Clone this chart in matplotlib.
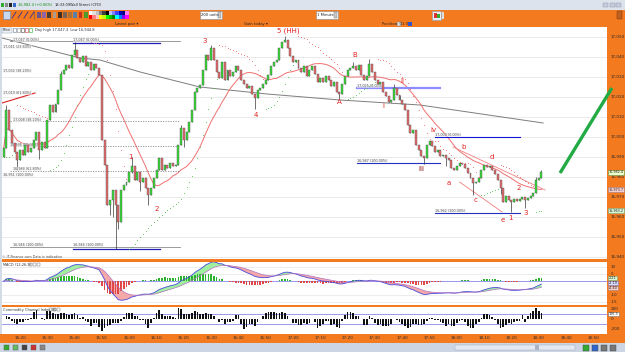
import matplotlib
matplotlib.use('Agg')
import matplotlib.pyplot as plt
from matplotlib.patches import Rectangle
import numpy as np
import pandas as pd

W, H = 625, 352
ORANGE = '#f47a20'

# ---- data: one bar per minute, time in minutes after 15:20 ----
first_minute = -6
first_open = 16990.0
closes = [
    16994.5, 17013.5, 17003.5, 16997, 16992.5, 16988.5,                                   # -6..-1
    16993.5, 16991, 16996, 16992.5, 16994.5, 16998.5, 17002.5, 16993.5, 16997.5, 16994.5,  # 0..9
    17008.5, 17016, 17012.5, 17016.5, 17023.5, 17031.5, 17033.5, 17036, 17034.5, 17041,
    17043.5, 17039.5, 17037.5, 17040.5, 17035.5, 17037.5, 17033.5, 17036.5, 17034.5, 17031,
    16998.5, 16986, 16966, 16968.5, 16973.5, 16966, 16957.5, 16973.5, 16976, 16977.5,      # 30..39
    16982.5, 16985.5, 16978.5, 16982.5, 16977.5, 16979.5, 16974.5, 16971, 16974.5, 16979.5,
    16983.5, 16989.5, 16983.5, 16986, 16984.5, 16987, 16985.5, 16986, 16996, 17004.5,
    16998.5, 17002.5, 17007.5, 17013.5, 17022.5, 17024.5, 17026, 17033.5, 17041, 17038.5,  # 60..69
    17044.5, 17038.5, 17032.5, 17029.5, 17037.5, 17028.5, 17033.5, 17030.5, 17032.5, 17035.5,
    17033.5, 17028.5, 17026.5, 17024.5, 17025.5, 17021.5, 17019.5, 17023.5, 17024.5, 17026.5,
    17028.5, 17031, 17035.5, 17037.5, 17038.5, 17044.5, 17047.5, 17048.5, 17044.5, 17040.5,  # 90..99
    17037.5, 17038.5, 17034.5, 17032.5, 17035.5, 17030.5, 17033.5, 17035.5, 17031.5, 17027.5,
    17029.5, 17027.5, 17030.5, 17028.5, 17025.5, 17027.5, 17022.5, 17021.5, 17026.5, 17030.5,
    17033.5, 17034.5, 17035.5, 17033.5, 17036, 17031, 17028.5, 17030.5, 17036.5, 17032.5,  # 120..129
    17028.5, 17026.5, 17027.5, 17022.5, 17020.5, 17017.5, 17018.5, 17024.5, 17021, 17018.5,
    17016.5, 17013.5, 17006, 17002, 17003.5, 16996, 16993.5, 16990.5, 16989.5, 16996,
    16998, 16995.5, 16992.5, 16993.5, 16990.5, 16991, 16989.5, 16988.5, 16984.5, 16983.5,  # 150..159
    16985.5, 16987, 16986.5, 16984.5, 16982, 16979.5, 16977, 16977.5, 16979.5, 16983.5,
    16986, 16985, 16985.5, 16983.5, 16981.5, 16978.5, 16974.5, 16967.5, 16970.5, 16968.5,
    16967.5, 16969, 16968, 16969, 16970, 16968.5, 16969.5, 16970.5, 16972, 16978.5,        # 180..189
    16979.5, 16982.4,
]
low_wicks = {-1: 16983.5, 7: 16989, 33: 16961, 34: 16960, 35: 16944, 36: 16954, 41: 16982,
             44: 16973, 47: 16966, 60: 16995, 86: 17014, 117: 17019, 148: 16986.5,
             156: 16985.5, 166: 16971, 176: 16971.5, 180: 16962.5, 185: 16964.5}
high_wicks = {-5: 17016, 15: 17033, 20: 17047.3, 41: 16990, 59: 17006, 70: 17046,
              97: 17050.5, 122: 17037.5, 128: 17039, 137: 17026.5, 189: 16980, 191: 16983.5}

# 200-period average (grey line)
ma200_t = [-6.6, 22, 29.3, 44, 58.6, 65.9, 90.5, 117.2, 146.5, 191.6]
ma200_p = [17049.5, 17039.5, 17038.5, 17032.5, 17027.5, 17025, 17021.5, 17018.5, 17016, 17007]

# drawn objects
fib_gray_t = [-3.7, 58.6]
fib_gray_solid = [17048, 16945]
fib_gray_dotted = [17008, 16995.5, 16983]
fib_blue_t = [19.4, 51.3]
fib_blue = [17047, 16944]
lev_t = [[123.4, 153.8], [152, 183.2], [123.4, 153.8], [152, 183.2]]
lev_p = [17024.5, 17000, 16987, 16962]
lev_col = ['#8c8cff', '#1515d8', '#2030c0', '#2030c0']
lev_lw = [1.6, 0.8, 0.8, 0.8]
trend_red_t = [-6.6, 5.5]
trend_red_p = [17017, 17022]
wedge_up_t = [158.6, 192.3]
wedge_up_p = [16995, 16973.5]
wedge_lo_t = [161, 176.6]
wedge_lo_p = [16977.5, 16962.5]
arrow_t = [197.8, 216.8]
arrow_p = [16982, 17024.5]

fib_text = ['17,047 (0.00%)', '17,047 (0.00%)', '17,041 (23.60%)', '17,032 (38.20%)',
            '17,019 (61.80%)', '17,008 (38.20%)', '16,996 (50.00%)', '16,984 (61.80%)',
            '16,951 (100.00%)', '16,946 (100.00%)', '16,946 (100.00%)', '17,025 (0.00%)',
            '17,000 (0.00%)', '16,987 (100.00%)', '16,962 (100.00%)']
fib_text_t = [-2.6, 19.4, -6.2, -6.2, -6.2, -2.6, -3.7, -2.6, -6.2, -2.6, 19.4, 123.4,
              152, 123.4, 152]
fib_text_p = [17048.5, 17048.5, 17045, 17033, 17022, 17008.5, 16996, 16984, 16981, 16946,
              16946, 17025.5, 17001, 16988, 16963]

wave_text = ['1', '2', '3', '4', '5 (HH)', 'A', 'B', 'i', 'ii', 'iii', 'iv',
             'a', 'b', 'c', 'd', 'e', '1', '2', '3']
wave_t = [40.3, 50.2, 67.8, 86.4, 98.2, 116.8, 122.7, 133, 140, 146.9, 151.3,
          157.1, 162.6, 166.7, 172.9, 176.9, 179.5, 182.8, 185.3]
wave_p = [16990, 16964, 17048, 17011, 17053, 17017.5, 17041, 17015.5, 17028, 16984,
          17003.5, 16977, 16995, 16968.5, 16990, 16958.5, 16959.5, 16974.5, 16962]

price_ticks = [17050, 17040, 17030, 17020, 17010, 17000, 16990, 16980, 16970, 16960, 16950, 16940]
macd_ticks = [10, 5, -10, -15]
cci_ticks = [200, 0, -200]
time_ticks = [0, 10, 20, 30, 40, 50, 60, 70, 80, 90, 100, 110, 120, 130, 140, 150,
              160, 170, 180, 190, 200, 210]
time_labels = ['15:20', '15:30', '15:40', '15:50', '16:00', '16:10', '16:20', '16:30',
               '16:40', '16:50', '17:00', '17:10', '17:20', '17:30', '17:40', '17:50',
               '18:00', '18:10', '18:20', '18:30', '18:40', '18:50']

# ---- derived series ----
close = np.array(closes, dtype=float)
n = len(close)
t = np.arange(first_minute, first_minute + n)
opn = np.concatenate([[first_open], close[:-1]])
high = np.maximum(opn, close)
low = np.minimum(opn, close)
for k, v in high_wicks.items():
    high[k - first_minute] = v
for k, v in low_wicks.items():
    low[k - first_minute] = v

cs = pd.Series(close)
ma20 = cs.rolling(20, min_periods=1).mean()
macd = cs.ewm(span=12, adjust=False).mean() - cs.ewm(span=26, adjust=False).mean()
signal = macd.ewm(span=9, adjust=False).mean()
hist = macd - signal

tp = pd.Series((high + low + close) / 3)
tp_ma = tp.rolling(8, min_periods=1).mean()
tp_md = tp.rolling(8, min_periods=1).apply(lambda x: np.abs(x - x.mean()).mean(), raw=True)
cci = ((tp - tp_ma) / (0.015 * tp_md.replace(0, np.nan))).fillna(0).clip(-230, 230)


def psar(hi, lo, step=0.02, max_step=0.2):
    sar = np.zeros(len(hi))
    bull = np.zeros(len(hi), dtype=bool)
    up, af, ep = True, step, hi[0]
    sar[0], bull[0] = lo[0], True
    for i in range(1, len(hi)):
        s = sar[i - 1] + af * (ep - sar[i - 1])
        if up:
            s = min(s, lo[i - 1], lo[max(i - 2, 0)])
            if lo[i] < s:
                up, s, ep, af = False, ep, lo[i], step
            elif hi[i] > ep:
                ep, af = hi[i], min(af + step, max_step)
        else:
            s = max(s, hi[i - 1], hi[max(i - 2, 0)])
            if hi[i] > s:
                up, s, ep, af = True, ep, hi[i], step
            elif lo[i] < ep:
                ep, af = lo[i], min(af + step, max_step)
        sar[i], bull[i] = s, up
    return sar, bull


sar, sar_bull = psar(high, low)

# ---- figure ----
fig = plt.figure(figsize=(W / 100, H / 100), dpi=100)
fig.patch.set_facecolor('#d3dbe7')


def px_axes(x0, y0, x1, y1, z):
    a = fig.add_axes([x0 / W, 1 - y1 / H, (x1 - x0) / W, (y1 - y0) / H])
    a.set_zorder(z)
    return a


bg = px_axes(0, 0, W, H, 0)
bg.set_xlim(0, W)
bg.set_ylim(H, 0)
bg.axis('off')

# window chrome
bg.add_patch(Rectangle((0, 0), W, 9.5, fc='#dde3ec', ec='none'))
bg.add_patch(Rectangle((0, 9.5), W, 17.5, fc=ORANGE, ec='none'))
bg.add_patch(Rectangle((607, 27), 18, 315, fc=ORANGE, ec='none'))
bg.add_patch(Rectangle((2, 259.3), 605, 2.5, fc=ORANGE, ec='none'))
bg.add_patch(Rectangle((2, 305), 605, 2, fc=ORANGE, ec='none'))
bg.add_patch(Rectangle((0, 334), W, 8.5, fc=ORANGE, ec='none'))
bg.add_patch(Rectangle((0, 342.5), W, 9.5, fc='#cbd5e4', ec='none'))

for i, c in enumerate(['#33aa33', '#888888', '#222222', '#3366cc']):
    bg.add_patch(Rectangle((1 + i * 4, 2.5), 3, 4.5, fc=c, ec='none'))
bg.text(18, 4.8, '16,982.4 (+0.06%)', fontsize=2.6, color='#118811', va='center')
bg.text(55, 4.8, '18:33:09', fontsize=2.6, color='#222222', va='center')
bg.text(70, 4.8, 'Wall Street (CFD)', fontsize=2.6, color='#222222', va='center')
for x in [603, 610, 616]:
    bg.add_patch(Rectangle((x, 2.5), 5, 4.5, fc='#c3ccda', ec='#8894a8', lw=0.3))

bg.add_patch(Rectangle((3, 11), 7, 8, fc='#c8d8f0', ec='#6080b0', lw=0.4))
for i in range(4):
    x = 12 + i * 6
    bg.plot([x, x + 4], [18, 12], color='#303090', lw=0.6)
bg.plot([33.5, 33.5], [11, 19], color='#555555', lw=0.4)
for i, c in enumerate(['#5050a0', '#8060c0', '#303030', '#a0a0a0', '#202020', '#606060',
                       '#a07040', '#4080c0', '#bb2222', '#30a030']):
    bg.add_patch(Rectangle((37 + i * 5.2, 12), 3.8, 6, fc=c, ec='none', alpha=0.85))
row1 = ['#ffffff', '#e0e0e0', '#c0c0c0', '#808080', '#404040', '#000000',
        '#c0c0ff', '#8080ff', '#4040ff', '#0000c0', '#000080', '#ff80ff']
row2 = ['#ff0000', '#ff8080', '#ffc0c0', '#ffff00', '#c0ff00', '#00ff00',
        '#00c000', '#008000', '#00ffff', '#0080ff', '#8000ff', '#ff00ff']
for i in range(12):
    bg.add_patch(Rectangle((89 + i * 3.3, 10.5), 3.3, 4.3, fc=row1[i], ec='none'))
    bg.add_patch(Rectangle((89 + i * 3.3, 14.8), 3.3, 4.3, fc=row2[i], ec='none'))
for x0, label in [(200, '200 units'), (316, '1 Minute')]:
    bg.add_patch(Rectangle((x0, 11), 22, 8, fc='white', ec='#888888', lw=0.4))
    bg.add_patch(Rectangle((x0 + 18, 12), 3.3, 6, fc='#c8c8c8', ec='#777777', lw=0.3))
    bg.text(x0 + 1.2, 15, label, fontsize=2.7, color='#222222', va='center')
bg.add_patch(Rectangle((432, 10.5), 9, 9, fc='#e8eef8', ec='#8899aa', lw=0.4))
bg.add_patch(Rectangle((434, 12.5), 2.5, 5, fc='#dd3333', ec='none'))
bg.add_patch(Rectangle((437, 13.5), 2.5, 4, fc='#33aa33', ec='none'))
bg.add_patch(Rectangle((442, 11.5), 2, 7, fc='#dddddd', ec='none'))
bg.add_patch(Rectangle((617, 11), 5, 8, fc='#c06020', ec='#703000', lw=0.3))
bg.text(115, 24.2, 'Latest pair \u25be', fontsize=2.7, color='#222222', va='center')
bg.text(244, 24.2, 'Gain today \u25be', fontsize=2.7, color='#222222', va='center')
bg.text(382, 24.2, 'Position: 0', fontsize=2.7, color='#222222', va='center')
bg.add_patch(Rectangle((397, 22), 3.5, 4, fc='#e0e0e0', ec='#777777', lw=0.3))
bg.text(402, 24.2, '1 0', fontsize=2.7, color='#222222', va='center')
bg.add_patch(Rectangle((408, 22), 3.5, 4, fc='#3355cc', ec='none'))

for i, c in enumerate(['#33aa33', '#66bb66', '#444444', '#cc3333', '#888888']):
    bg.add_patch(Rectangle((4 + i * 9, 345), 5, 5, fc=c, ec='#555555', lw=0.3))
bg.add_patch(Rectangle((455, 345), 120, 4.5, fc='#e4e9f1', ec='#99a3b5', lw=0.3))
bg.add_patch(Rectangle((535, 345), 4, 4.5, fc='#aab4c4', ec='none'))
for i, c in enumerate(['#33aa33', '#3366cc', '#777777', '#777777']):
    bg.add_patch(Rectangle((583 + i * 9, 344.5), 6, 6, fc=c, ec='#444444', lw=0.3))

xlim = (-6.6, 215.0)

# ---- price panel ----
ax = px_axes(2, 27, 607, 259, 2)
ax.set_xlim(*xlim)
ax.set_ylim(16939, 17055)
for p in price_ticks:
    ax.axhline(p, color='#e2e2e2', lw=0.5, zorder=0)

ax.plot(ma200_t, ma200_p, color='#7d7d7d', lw=0.7, zorder=1)
ax.plot(t, ma20, color='#f07070', lw=0.7, zorder=1)

ax.plot(fib_gray_t, [fib_gray_solid[0]] * 2, color='#8a8a8a', lw=0.6)
ax.plot(fib_gray_t, [fib_gray_solid[1]] * 2, color='#8a8a8a', lw=0.6)
for p in fib_gray_dotted:
    ax.plot(fib_gray_t, [p, p], color='#8a8a8a', lw=0.6, ls=(0, (1.5, 1.5)))
for p in fib_blue:
    ax.plot(fib_blue_t, [p, p], color='#2020b8', lw=0.9)
for tt, p, c, lw in zip(lev_t, lev_p, lev_col, lev_lw):
    ax.plot(tt, [p, p], color=c, lw=lw, zorder=1)
ax.plot(trend_red_t, trend_red_p, color='#dd2222', lw=0.8)
ax.plot(wedge_up_t, wedge_up_p, color='#f08080', lw=0.6)
ax.plot(wedge_lo_t, wedge_lo_p, color='#f08080', lw=0.6)

for txt, tt, p in zip(fib_text, fib_text_t, fib_text_p):
    ax.text(tt, p, txt, fontsize=2.4, color='#555555', va='center', ha='left',
            bbox=dict(boxstyle='square,pad=0.1', fc='#f0f0f0', ec='none', alpha=0.6))

up = close >= opn
ax.vlines(t, low, high, color='#222222', lw=0.45, zorder=2)
ax.bar(t, np.maximum(np.abs(close - opn), 0.35), bottom=np.minimum(opn, close), width=0.72,
       color=np.where(up, '#33dd33', '#e86a6a'), edgecolor='#555555', linewidth=0.3, zorder=3)

ax.scatter(t[~sar_bull], sar[~sar_bull], s=0.35, color='#f06060', lw=0, zorder=4)
ax.scatter(t[sar_bull], sar[sar_bull], s=0.35, color='#44bb44', lw=0, zorder=4)

for txt, tt, p in zip(wave_text, wave_t, wave_p):
    ax.text(tt, p, txt, fontsize=5, color='#8b0000' if txt == 'iii' else '#e02020',
            ha='center', va='center', zorder=5)

ax.plot(arrow_t, arrow_p, color='#22aa44', lw=2.4, solid_capstyle='butt', clip_on=False, zorder=6)

yt = ax.get_yaxis_transform()
for p in price_ticks:
    ax.text(1.006, p, f'{p:,}', transform=yt, fontsize=3, color='#2a2a2a', va='center',
            ha='left', clip_on=False)


def tag(a, y, text, fc, ec):
    a.text(1.003, y, text, transform=a.get_yaxis_transform(), fontsize=2.4, color='#222222',
           va='center', ha='left', clip_on=False,
           bbox=dict(boxstyle='square,pad=0.12', fc=fc, ec=ec, lw=0.4))


tag(ax, close[-1], f'{close[-1]:,.1f}', '#eaffcc', '#669944')
tag(ax, ma20.iloc[-1], f'{ma20.iloc[-1]:,.1f}', '#f5d0d0', '#aa7777')
tag(ax, sar[-1], f'{sar[-1]:,.1f}', '#d8f5d8', '#77aa77')

# ---- MACD panel ----
am = px_axes(2, 262, 607, 305, 2)
am.set_xlim(*xlim)
am.set_ylim(-17.1, 13.6)
for v in macd_ticks:
    am.axhline(v, color='#e4e4e4', lw=0.5, zorder=0)
am.axhline(0, color='#8888ee', lw=0.6, zorder=1)
am.bar(t, hist, width=0.6, color=np.where(hist >= 0, '#2cb52c', '#e04848'), zorder=2)
am.fill_between(t, macd, signal, where=macd >= signal, interpolate=True, color='#a0eea0', lw=0, zorder=1)
am.fill_between(t, macd, signal, where=macd < signal, interpolate=True, color='#f4a8a8', lw=0, zorder=1)
am.plot(t, macd, color='#4848dd', lw=0.6, zorder=3)
am.plot(t, signal, color='#b070c0', lw=0.5, zorder=3)
mt = am.get_yaxis_transform()
for v in macd_ticks:
    am.text(1.006, v, str(v), transform=mt, fontsize=3, color='#2a2a2a', va='center',
            ha='left', clip_on=False)
tag(am, 2.2, f'{hist.iloc[-1]:.2f}', '#d8f5d8', '#77aa77')
tag(am, -1.4, f'{macd.iloc[-1]:.2f}', '#d8dcff', '#7777cc')
tag(am, -5.0, f'{signal.iloc[-1]:.2f}', '#f5d0d0', '#aa7777')

# ---- CCI panel ----
ac = px_axes(2, 307, 607, 334, 2)
ac.set_xlim(*xlim)
ac.set_ylim(-300, 240)
ac.axhline(100, color='#8888ee', lw=0.6, zorder=1)
ac.axhline(-100, color='#8888ee', lw=0.6, zorder=1)
ac.bar(t, cci, width=0.62, color='#111111', zorder=2)
ct = ac.get_yaxis_transform()
for v in cci_ticks:
    ac.text(1.006, v, str(v), transform=ct, fontsize=3, color='#2a2a2a', va='center',
            ha='left', clip_on=False)
tag(ac, 100, f'{cci.iloc[-1]:.1f}', 'white', '#777777')

xt = ac.get_xaxis_transform()
for tt, lab in zip(time_ticks, time_labels):
    ac.text(tt, -0.15, lab, transform=xt, fontsize=3, color='#2a2a2a', ha='center',
            va='center', clip_on=False)

for a in (ax, am, ac):
    a.set_xticks([])
    a.set_yticks([])
    for s in a.spines.values():
        s.set_visible(False)

# ---- overlay labels ----
fg = px_axes(0, 0, W, H, 10)
fg.set_xlim(0, W)
fg.set_ylim(H, 0)
fg.axis('off')
fg.add_patch(Rectangle((2, 27.5), 10, 5, fc='#eef1f8', ec='#8899aa', lw=0.3))
fg.text(3, 30, 'Price', fontsize=2.4, color='#222222', va='center')
for i, c in enumerate(['#6a7a9a', '#888888', '#444444', '#cc3333', '#33aa33']):
    fg.add_patch(Rectangle((13 + i * 4, 28), 3, 4, fc='white', ec=c, lw=0.4))
fg.text(35, 30, 'Day high 17,047.3  Low 16,944.8', fontsize=2.6, color='#333333', va='center')
fg.text(2, 256.5, '\u00a9 IT-Finance.com Data is indicative', fontsize=2.4, color='#444444',
        va='center')
fg.text(3, 264.5, 'MACD (12,26,9)', fontsize=2.5, color='#333333', va='center')
fg.text(3, 309.5, 'Commodity Channel Index (8)', fontsize=2.5, color='#333333', va='center')
for x0 in (29, 49):
    y0 = 262.5 if x0 == 29 else 307.5
    for i in range(3):
        fg.add_patch(Rectangle((x0 + i * 4, y0), 3, 3.6, fc='white', ec='#666666', lw=0.3))

fig.savefig('out.png', dpi=100, facecolor=fig.get_facecolor())
